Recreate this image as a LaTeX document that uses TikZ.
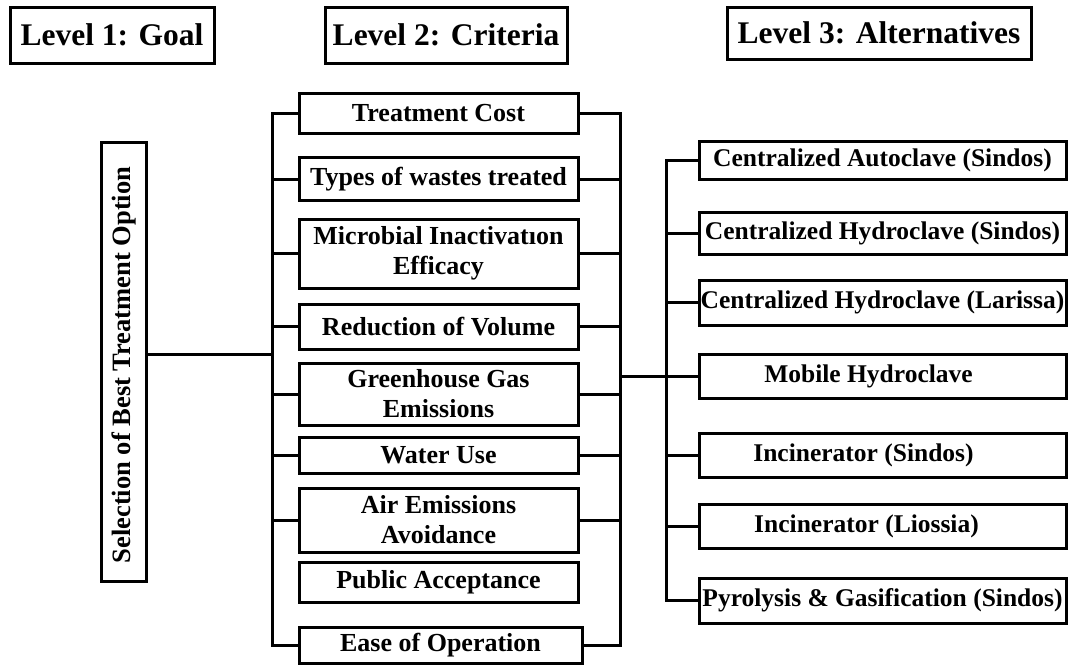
\documentclass[tikz,border=0pt]{standalone}
\usepackage{fontspec}
\setmainfont{Liberation Serif}
\begin{document}
\begin{tikzpicture}[x=1pt,y=-1pt,
  box/.style={draw=black,line width=3pt,fill=white,inner sep=0pt,align=center},
  head/.style={box,font=\bfseries\fontsize{31.5}{36}\selectfont},
  crit/.style={box,minimum width=279pt,font=\bfseries\fontsize{26}{30}\selectfont},
  alt/.style={box,minimum width=367pt,font=\bfseries\fontsize{25.5}{30}\selectfont},
  wire/.style={draw=black,line width=3pt,line join=miter}]
\useasboundingbox (0,0) rectangle (1068,665);

% level headings
\node[head,minimum width=204pt,minimum height=56pt] (h1) at (112,35) {Level 1: Goal};
\node[head,minimum width=242pt,minimum height=56pt] (h2) at (446,35) {Level 2: Criteria};
\node[head,minimum width=304pt,minimum height=52pt] (h3) at (879,33) {Level 3: Alternatives};

% goal
\node[box,minimum width=45pt,minimum height=439pt] (goal) at (123.5,361.5) {};
\node[rotate=90,font=\bfseries\fontsize{26.5}{30}\selectfont] (goaltext) at (123.5,365) {Selection of Best Treatment Option};

% criteria
\node[crit,minimum height=40pt] (c1) at (438.5,113) {Treatment Cost};
\node[crit,minimum height=43pt] (c2) at (438.5,179) {Types of wastes treated};
\node[crit,minimum height=69pt] (c3) at (438.5,253.5) {Microbial Inactivatıon\\Efficacy};
\node[crit,minimum height=45pt] (c4) at (438.5,326.5) {Reduction of Volume};
\node[crit,minimum height=62pt] (c5) at (438.5,394) {Greenhouse Gas\\Emissions};
\node[crit,minimum height=36pt] (c6) at (438.5,455) {Water Use};
\node[crit,minimum height=64pt] (c7) at (438.5,520) {Air Emissions\\Avoidance};
\node[crit,minimum height=40pt] (c8) at (438.5,582) {Public Acceptance};
\node[crit,minimum width=283pt,minimum height=36pt] (c9) at (440.5,645) {Ease of Operation};

% alternatives
\node[alt,minimum height=38pt] (a1) at (882.5,160) {Centralized Autoclave (Sindos)};
\node[alt,minimum height=42pt] (a2) at (882.5,233) {Centralized Hydroclave (Sindos)};
\node[alt,minimum height=45pt] (a3) at (882.5,302.5) {Centralized Hydroclave (Larissa)};
\node[alt,minimum height=44pt] (a4) at (882.5,376) {Mobile Hydroclave\hspace*{28pt}};
\node[alt,minimum height=44pt] (a5) at (882.5,455) {Incinerator (Sindos)\hspace*{38pt}};
\node[alt,minimum height=44pt] (a6) at (882.5,526) {Incinerator (Liossia)\hspace*{32pt}};
\node[alt,minimum height=45pt] (a7) at (882.5,600.5) {Pyrolysis \& Gasification (Sindos)};

% bus lines
\coordinate (lb) at (272,0);
\coordinate (rb) at (620,0);
\coordinate (ab) at (666,0);
\coordinate (gj) at (272,354);

\draw[wire] (goal.east |- gj) -- (gj);
\draw[wire] (c1.west) -- (c1.west -| lb) -- (c9.west -| lb) -- (c9.west);
\draw[wire] (c1.east) -- (c1.east -| rb) -- (c9.east -| rb) -- (c9.east);
\foreach \n in {c2,c3,c4,c5,c6,c7} {
  \draw[wire] (\n.west) -- (\n.west -| lb);
  \draw[wire] (\n.east) -- (\n.east -| rb);
}
\draw[wire] (a4.west -| rb) -- (a4.west);
\draw[wire] (a1.west) -- (a1.west -| ab) -- (a7.west -| ab) -- (a7.west);
\foreach \n in {a2,a3,a5,a6} \draw[wire] (\n.west) -- (\n.west -| ab);
\end{tikzpicture}
\end{document}
